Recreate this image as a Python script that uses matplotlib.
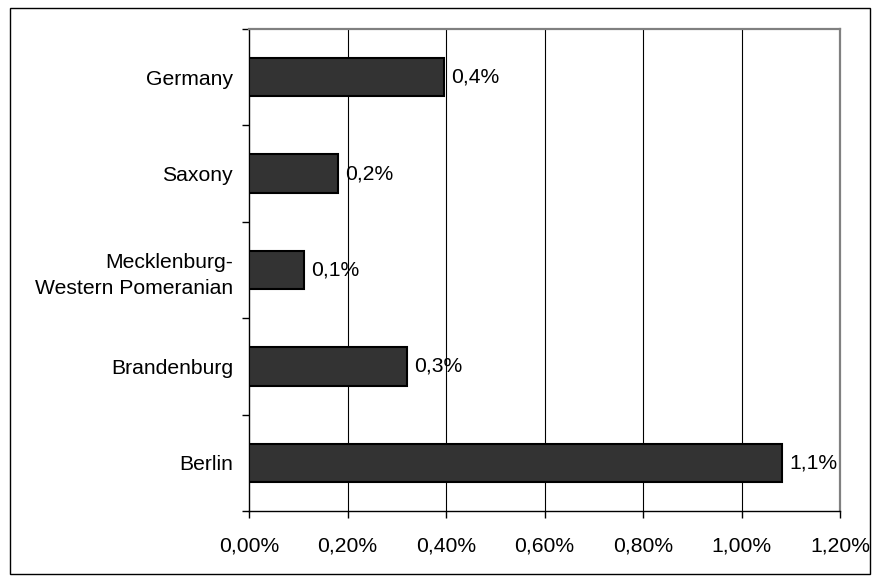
import matplotlib
matplotlib.use("Agg")
import matplotlib.pyplot as plt
from matplotlib.patches import Rectangle
from matplotlib.ticker import FixedLocator

categories = ["Berlin", "Brandenburg", "Mecklenburg-\nWestern Pomeranian", "Saxony", "Germany"]
values = [1.082, 0.32, 0.111, 0.18, 0.395]
value_labels = ["1,1%", "0,3%", "0,1%", "0,2%", "0,4%"]
xticks = [0.0, 0.2, 0.4, 0.6, 0.8, 1.0, 1.2]
xtick_labels = ["0,00%", "0,20%", "0,40%", "0,60%", "0,80%", "1,00%", "1,20%"]

plt.rcParams['font.family'] = ['Liberation Sans', 'DejaVu Sans']
FS = 15.2

fig = plt.figure(figsize=(8.8, 5.81), dpi=100)
W, H = 880, 581
ax = fig.add_axes([249 / W, 1 - 511 / H, (840 - 249) / W, (511 - 29) / H])

ypos = list(range(len(categories)))
ax.barh(ypos, values, height=0.4, color="#333333", edgecolor="black", linewidth=1.5, zorder=3)

for y, v, lab in zip(ypos, values, value_labels):
    ax.text(v + 0.015, y, lab, va="center", ha="left", fontsize=FS, zorder=4)

ax.set_xlim(0, 1.2)
ax.set_ylim(-0.5, len(categories) - 0.5)

ax.set_xticks(xticks)
ax.set_xticklabels(xtick_labels, fontsize=FS)
ax.set_yticks(ypos)
ax.set_yticklabels(categories, fontsize=FS, linespacing=1.5)
ax.yaxis.set_minor_locator(FixedLocator([i - 0.5 for i in range(len(categories) + 1)]))

ax.tick_params(axis="y", which="major", length=0, pad=11.5)
ax.tick_params(axis="y", which="minor", length=5, width=1, color="black", direction="out")
ax.tick_params(axis="x", which="major", length=5, width=1, color="black", direction="out", pad=13)

for x in xticks[1:-1]:
    ax.axvline(x, color="black", linewidth=0.8, zorder=1)

ax.spines["left"].set_color("black")
ax.spines["left"].set_linewidth(1.0)
ax.spines["bottom"].set_color("black")
ax.spines["bottom"].set_linewidth(1.0)
ax.spines["top"].set_color("#808080")
ax.spines["top"].set_linewidth(1.6)
ax.spines["right"].set_color("#808080")
ax.spines["right"].set_linewidth(1.6)

fig.patches.append(Rectangle((10 / W, 1 - 574 / H), (870 - 10) / W, (574 - 8) / H,
                             transform=fig.transFigure, fill=False, edgecolor="black", linewidth=1.0))

fig.savefig("out.png", dpi=100)
